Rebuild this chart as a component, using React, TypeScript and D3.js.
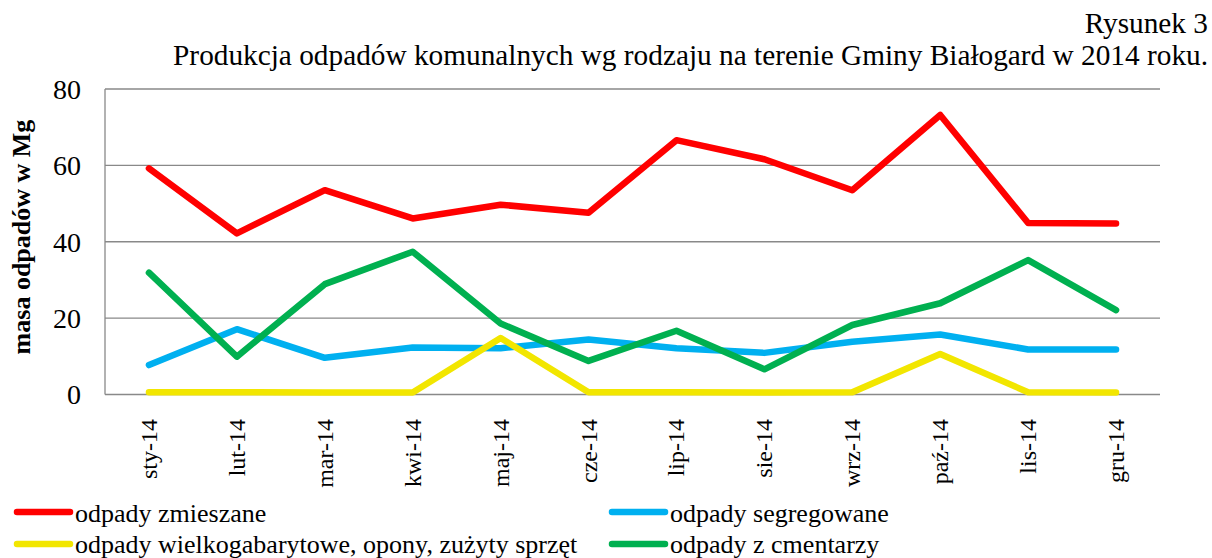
import React from "react";
import * as d3 from "d3";

const months = ["sty-14","lut-14","mar-14","kwi-14","maj-14","cze-14","lip-14","sie-14","wrz-14","paź-14","lis-14","gru-14"];
const zmieszane = [59.2, 42.2, 53.5, 46.1, 49.7, 47.6, 66.6, 61.6, 53.5, 73.2, 44.9, 44.8];
const segregowane = [7.7, 17.1, 9.6, 12.3, 12.1, 14.4, 12.1, 10.9, 13.8, 15.7, 11.8, 11.8];
const wielkogabarytowe = [0.6, 0.6, 0.5, 0.5, 14.8, 0.6, 0.6, 0.5, 0.6, 10.6, 0.6, 0.5];
const cmentarze = [31.9, 9.9, 28.9, 37.4, 18.6, 8.8, 16.7, 6.6, 18.2, 23.9, 35.2, 22.1];
const yTicks = [0, 20, 40, 60, 80];

const seriesNames = ["odpady zmieszane", "odpady segregowane", "odpady wielkogabarytowe, opony, zużyty sprzęt", "odpady z cmentarzy"];
const seriesValues = [zmieszane, segregowane, wielkogabarytowe, cmentarze];
const seriesColors = ["#FF0000", "#00B0F0", "#F2E600", "#00B050"];

const W = 1212, H = 558;
const left = 105, right = 1160, top = 89, bottom = 394.5;
const FONT = "'Liberation Serif', 'Times New Roman', serif";

export default function App() {
  const x = d3.scaleBand().domain(months).range([left, right]);
  const y = d3.scaleLinear().domain([0, 80]).range([bottom, top]);
  const line = d3.line<number>()
    .x((_, i) => (x(months[i]) as number) + x.bandwidth() / 2)
    .y(d => y(d));

  const legendPos = [
    { sx: 17, tx: 75, ly: 512, ty: 522 },
    { sx: 612, tx: 670, ly: 512, ty: 522 },
    { sx: 17, tx: 75, ly: 544, ty: 553 },
    { sx: 612, tx: 670, ly: 544, ty: 553 },
  ];

  return (
    <svg width={W} height={H} style={{ position: "absolute", left: 0, top: 0, background: "#fff" }} fontFamily={FONT}>
      <text x={1208} y={33} textAnchor="end" fontSize={29.3} fill="#000">Rysunek 3</text>
      <text x={1208} y={65} textAnchor="end" fontSize={29.3} fill="#000">Produkcja odpadów komunalnych wg rodzaju na terenie Gminy Białogard w 2014 roku.</text>

      {yTicks.map(t => (
        <g key={t}>
          <line x1={left} x2={right} y1={y(t)} y2={y(t)} stroke="#898989" strokeWidth={1.3} />
          <text x={81} y={y(t)} dy="0.35em" textAnchor="end" fontSize={28} fill="#000">{t}</text>
        </g>
      ))}
      <line x1={left} x2={left} y1={top} y2={bottom} stroke="#898989" strokeWidth={1.3} />

      <text transform={`translate(30, 237) rotate(-90)`} textAnchor="middle" fontSize={26} fontWeight="bold" fill="#000">masa odpadów w Mg</text>

      {months.map(m => {
        const cx = (x(m) as number) + x.bandwidth() / 2;
        return (
          <text key={m} transform={`translate(${cx + 8}, 419) rotate(-90)`} textAnchor="end" fontSize={24} fill="#000">{m}</text>
        );
      })}

      {seriesValues.map((vals, i) => (
        <path key={i} d={line(vals) || ""} fill="none" stroke={seriesColors[i]} strokeWidth={6.5} strokeLinecap="round" strokeLinejoin="round" />
      ))}

      {seriesNames.map((n, i) => {
        const p = legendPos[i];
        return (
          <g key={n}>
            <line x1={p.sx} x2={p.sx + 53} y1={p.ly} y2={p.ly} stroke={seriesColors[i]} strokeWidth={6.5} strokeLinecap="round" />
            <text x={p.tx} y={p.ty} fontSize={26} fill="#000">{n}</text>
          </g>
        );
      })}
    </svg>
  );
}
